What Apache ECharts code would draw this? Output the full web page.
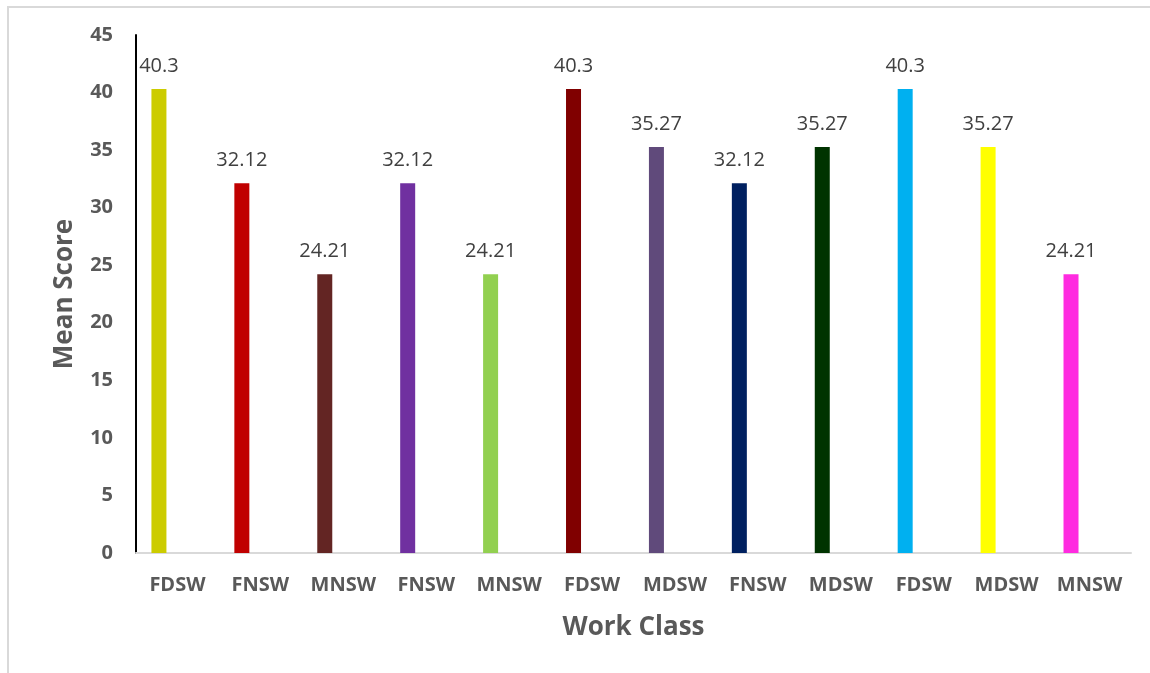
<!DOCTYPE html>
<html>
<head>
<meta charset="utf-8">
<script src="https://cdn.jsdelivr.net/npm/echarts@6/dist/echarts.min.js"></script>
<style>
    html, body { margin: 0; padding: 0; background: #fff; overflow: hidden; }
    .frame { position: absolute; left: 7px; top: 6px; width: 1300px; height: 800px; border: 2px solid #d9d9d9; }
    #chart { position: absolute; left: 0; top: 0; width: 1150px; height: 673px; }
</style>
</head>
<body>
<div class="frame"></div>
<div id="chart"></div>
<script>
// work class categories, in the order of the bars
const categories = ['FDSW', 'FNSW', 'MNSW', 'FNSW', 'MNSW', 'FDSW', 'MDSW', 'FNSW', 'MDSW', 'FDSW', 'MDSW', 'MNSW'];
const meanScores = [40.3, 32.12, 24.21, 32.12, 24.21, 40.3, 35.27, 32.12, 35.27, 40.3, 35.27, 24.21];
const barColors = ['#cccc00', '#c00000', '#632523', '#7030a0', '#92d050', '#800000',
                   '#604a7b', '#002060', '#003300', '#00b0f0', '#ffff00', '#ff2be0'];
const yTicks = [0, 5, 10, 15, 20, 25, 30, 35, 40, 45];

const chart = echarts.init(document.getElementById('chart'));

const axisFont = {
    fontFamily: 'Open Sans',
    fontWeight: 'bold',
    fontSize: 20,
    color: '#595959'
};

const option = {
    animation: false,
    grid: {
        left: 136,
        right: 19,
        top: 35,
        bottom: 120
    },
    xAxis: {
        type: 'category',
        data: categories,
        name: 'Work Class',
        nameLocation: 'middle',
        nameGap: 62,
        nameTextStyle: { fontFamily: 'Open Sans', fontWeight: 'bold', fontSize: 26, color: '#595959' },
        axisTick: { show: false },
        axisLine: { lineStyle: { color: '#d9d9d9', width: 2 } },
        axisLabel: Object.assign({ margin: 22, interval: 0 }, axisFont)
    },
    yAxis: {
        type: 'value',
        min: yTicks[0],
        max: yTicks[yTicks.length - 1],
        interval: 5,
        name: 'Mean Score',
        nameLocation: 'middle',
        nameGap: 58,
        nameTextStyle: { fontFamily: 'Open Sans', fontWeight: 'bold', fontSize: 26, color: '#595959' },
        axisLine: { show: true, lineStyle: { color: '#000', width: 2 } },
        axisTick: { show: false },
        splitLine: { show: false },
        axisLabel: Object.assign({ margin: 23 }, axisFont)
    },
    series: [
        {
            type: 'bar',
            barWidth: 15,
            barGap: '147%',
            data: meanScores.map((v, i) => ({
                value: v,
                itemStyle: { color: barColors[i] }
            })),
            label: {
                show: true,
                position: 'top',
                distance: 13,
                fontFamily: 'Open Sans',
                fontSize: 20,
                color: '#404040'
            }
        },
        {
            // empty companion series, keeps the bars to the left of each category like the original
            type: 'bar',
            barWidth: 15,
            data: categories.map(() => '-')
        }
    ]
};

chart.setOption(option);
</script>
</body>
</html>
